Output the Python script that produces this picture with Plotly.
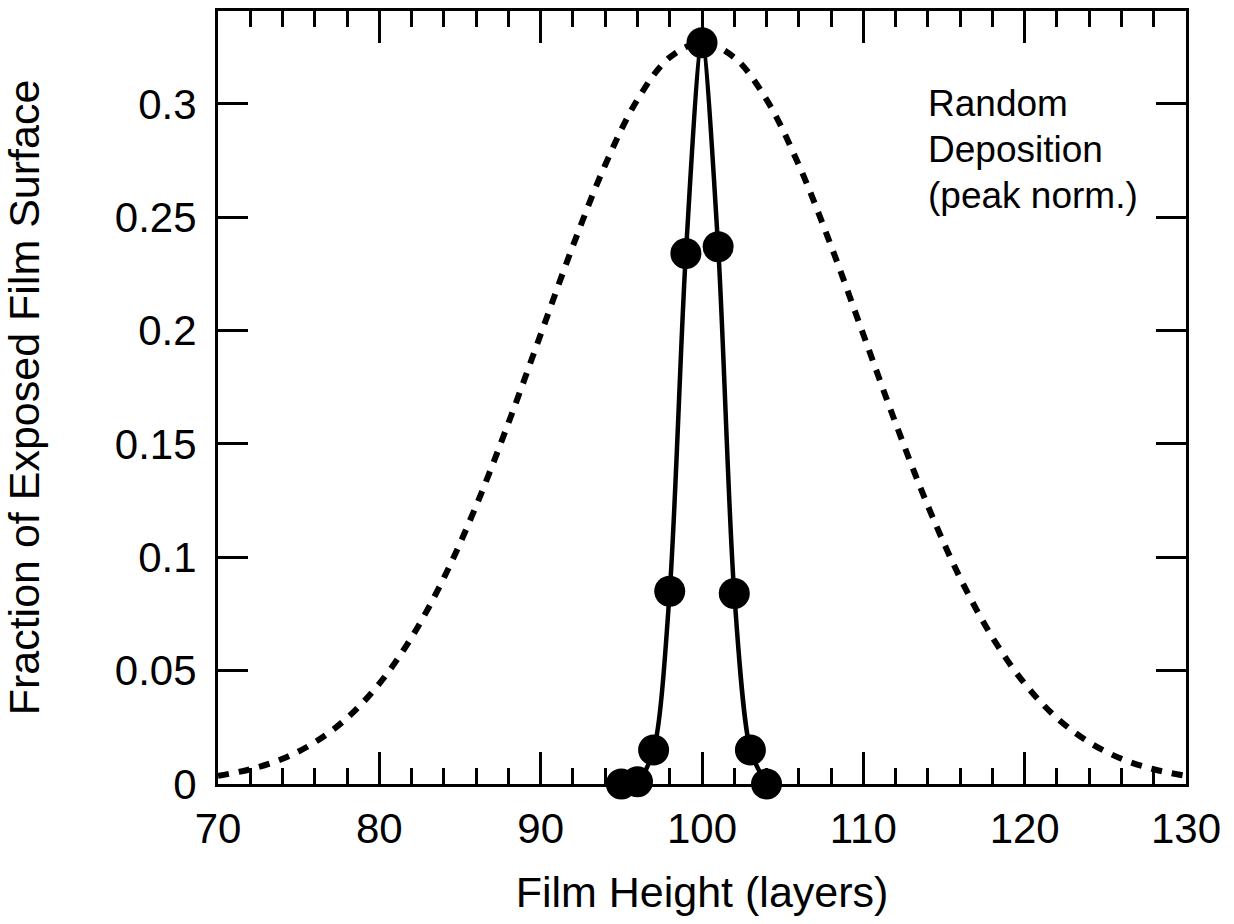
import plotly.graph_objects as go

# Random deposition distribution (peak normalized)
rd_x = [70, 72, 74, 76, 78, 80, 82, 84, 86, 88, 90, 92, 94, 96, 98, 100,
        102, 104, 106, 108, 110, 112, 114, 116, 118, 120, 122, 124, 126, 128, 130]
rd_y = [0.0036, 0.0065, 0.0111, 0.0184, 0.0291, 0.0443, 0.0647, 0.0909, 0.1227,
        0.1592, 0.1983, 0.2374, 0.2731, 0.3019, 0.3205, 0.327,
        0.3205, 0.3019, 0.2731, 0.2374, 0.1983, 0.1592, 0.1227, 0.0909, 0.0647,
        0.0443, 0.0291, 0.0184, 0.0111, 0.0065, 0.0036]

# Simulated film surface distribution
sim_x = [95, 96, 97, 98, 99, 100, 101, 102, 103, 104]
sim_y = [0.0, 0.001, 0.015, 0.085, 0.234, 0.327, 0.237, 0.084, 0.015, 0.0]

x_ticks = [70, 80, 90, 100, 110, 120, 130]
y_ticks = [0, 0.05, 0.1, 0.15, 0.2, 0.25, 0.3]
y_tick_text = ["0", "0.05", "0.1", "0.15", "0.2", "0.25", "0.3"]

label_lines = ["Random", "Deposition", "(peak norm.)"]

FONT = "Liberation Sans, Arial, sans-serif"

fig = go.Figure()
fig.add_trace(go.Scatter(
    x=rd_x, y=rd_y, mode="lines",
    line=dict(color="black", width=6, dash="11px,10px", shape="spline"),
    showlegend=False, cliponaxis=True))
fig.add_trace(go.Scatter(
    x=sim_x, y=sim_y, mode="lines+markers",
    line=dict(color="black", width=4.5, shape="spline", smoothing=0.8),
    marker=dict(color="black", size=31),
    showlegend=False, cliponaxis=False))

for i, line in enumerate(label_lines):
    fig.add_annotation(
        x=0.731, y=0.8797 - i * 0.0589, xref="paper", yref="paper",
        xanchor="left", yanchor="middle", align="left", showarrow=False,
        text=line, font=dict(family=FONT, size=37, color="black"))

fig.update_layout(
    width=1234, height=924,
    margin=dict(l=218, r=48, t=11, b=140),
    paper_bgcolor="white", plot_bgcolor="white",
    font=dict(family=FONT, size=42, color="black"),
    xaxis=dict(
        range=[70, 130], tickvals=x_ticks, ticktext=[str(v) for v in x_ticks],
        ticks="inside", ticklen=32, tickwidth=3, tickcolor="black",
        ticklabelstandoff=6,
        minor=dict(dtick=2, tick0=70, ticks="inside", ticklen=16, tickwidth=3,
                   tickcolor="black", showgrid=False),
        showline=True, linewidth=3, linecolor="black", mirror="ticks",
        showgrid=False, zeroline=False, automargin=False,
        title=dict(text="Film Height (layers)", standoff=26,
                   font=dict(size=43))),
    yaxis=dict(
        range=[0, 0.341], tickvals=y_ticks, ticktext=y_tick_text,
        ticks="inside", ticklen=30, tickwidth=3, tickcolor="black",
        ticklabelstandoff=10,
        showline=True, linewidth=3, linecolor="black", mirror="ticks",
        showgrid=False, zeroline=False, automargin=False,
        title=dict(text="Fraction of Exposed Film Surface", standoff=62,
                   font=dict(size=43))),
)

fig.write_html("out.html")
